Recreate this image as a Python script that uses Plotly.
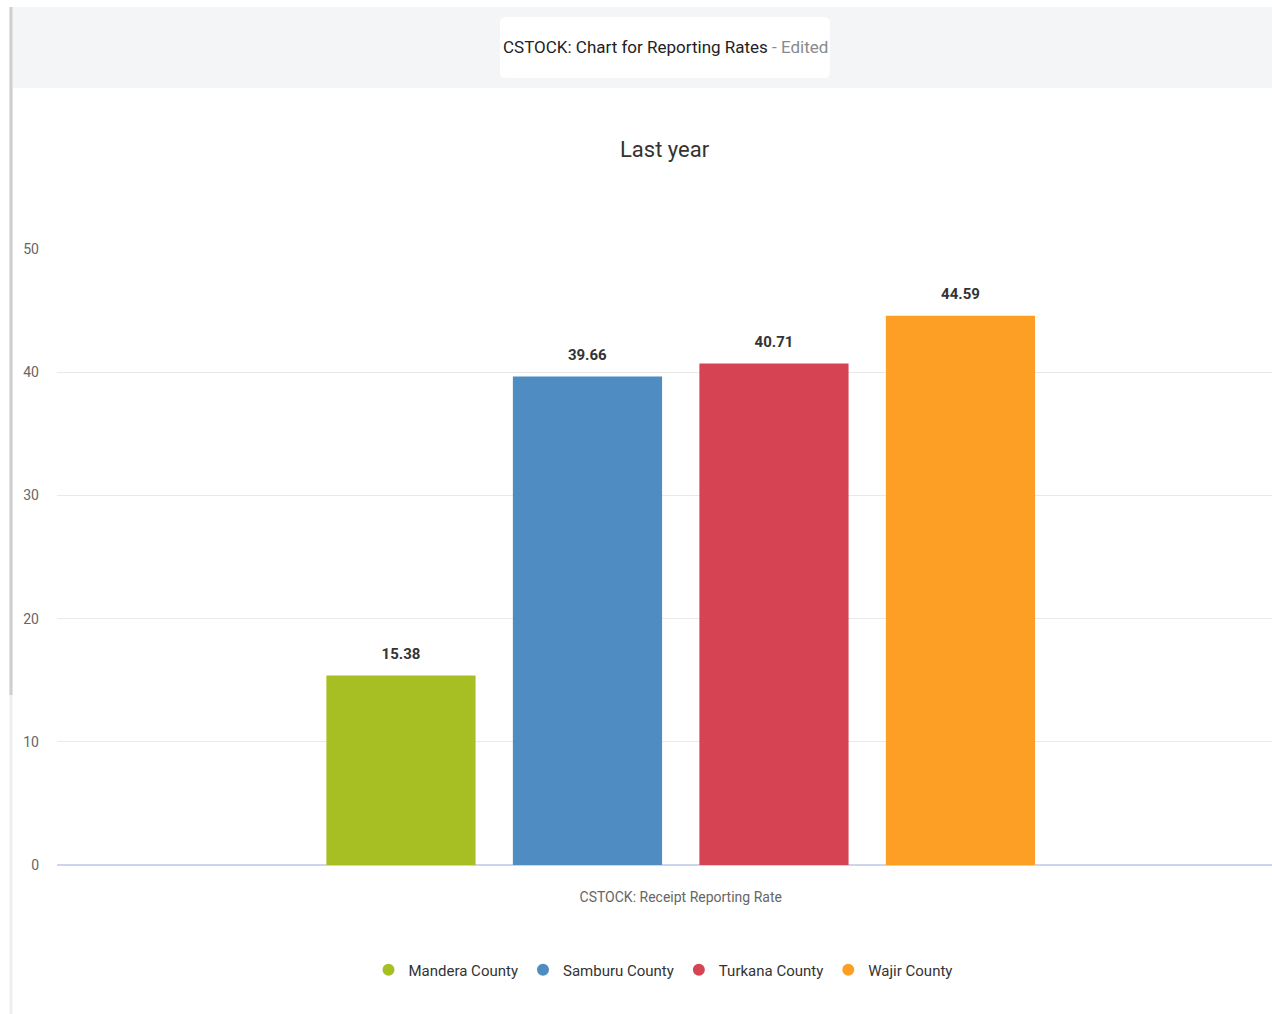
import plotly.graph_objects as go

category = ["CSTOCK: Receipt Reporting Rate"]
counties = ["Mandera County", "Samburu County", "Turkana County", "Wajir County"]
rates = [15.38, 39.66, 40.71, 44.59]
colors = ["#a8bf24", "#4f8cc2", "#d64454", "#fd9f24"]
y_ticks = [0, 10, 20, 30, 40, 50]

W, H = 1272, 1014
L, R, T, B = 57, 0, 249, 149
pw, ph = W - L - R, H - T - B

def px(x):
    return (x - L) / pw

def py(y):
    return (H - B - y) / ph

fig = go.Figure()
for name, val, col in zip(counties, rates, colors):
    fig.add_trace(go.Bar(
        x=category, y=[val], name=name, marker=dict(color=col, line=dict(width=0)),
        texttemplate="<span style='font-size:15px'>%{y:.2f}</span><br> ",
        textposition="outside", cliponaxis=False,
        textfont=dict(family="Roboto", size=9, color="#333333", weight="bold"),
        showlegend=False, hoverinfo="skip"))
for name, col in zip(counties, colors):
    fig.add_trace(go.Scatter(
        x=[None], y=[None], mode="markers", name=name,
        marker=dict(symbol="circle", size=13, color=col), showlegend=True))

box_path = ("M -159,-30.5 L 159,-30.5 Q 165,-30.5 165,-24.5 L 165,24.5 Q 165,30.5 159,30.5 "
            "L -159,30.5 Q -165,30.5 -165,24.5 L -165,-24.5 Q -165,-30.5 -159,-30.5 Z")

shapes = [
    dict(type="rect", xref="paper", yref="paper", x0=px(13), x1=px(W + 5), y0=py(88), y1=py(7),
         fillcolor="#f4f5f7", line=dict(width=0), layer="below"),
    dict(type="path", xref="paper", yref="paper", xsizemode="pixel", ysizemode="pixel",
         xanchor=px(665), yanchor=py(47.5), path=box_path,
         fillcolor="#ffffff", line=dict(width=0), layer="below"),
    dict(type="line", xref="paper", yref="paper", x0=px(11), x1=px(11), y0=py(1014), y1=py(7),
         line=dict(color="#eeeeee", width=3)),
    dict(type="line", xref="paper", yref="paper", x0=px(11), x1=px(11), y0=py(695), y1=py(7),
         line=dict(color="#cfcfcf", width=3)),
]

annotations = [
    dict(xref="paper", yref="paper", x=px(665), y=py(47), xanchor="center", yanchor="middle",
         showarrow=False,
         text="CSTOCK: Chart for Reporting Rates <span style='color:#8a8a8a'>- Edited</span>",
         font=dict(family="Roboto", size=17, color="#222222")),
    dict(xref="paper", yref="paper", x=px(665), y=py(150), xanchor="center", yanchor="middle",
         showarrow=False,
         text="Last year", font=dict(family="Roboto", size=22, color="#333333")),
]

fig.update_layout(
    width=W, height=H, margin=dict(l=L, r=R, t=T, b=B),
    paper_bgcolor="#ffffff", plot_bgcolor="#ffffff",
    font=dict(family="Roboto", color="#666666"),
    barmode="group", bargap=0.402, bargroupgap=0.2,
    showlegend=True,
    legend=dict(orientation="h", x=px(663), xanchor="center", y=py(970), yanchor="middle",
                font=dict(family="Roboto", size=15, color="#333333"),
                itemsizing="constant", itemwidth=30, bgcolor="rgba(0,0,0,0)"),
    shapes=shapes, annotations=annotations,
    xaxis=dict(type="category", range=[-0.5, 0.474], showgrid=False, showline=False,
               zeroline=False, ticks="", ticklabelstandoff=22,
               tickfont=dict(family="Roboto", size=14, color="#666666"), fixedrange=True),
    yaxis=dict(range=[0, 50], tickvals=y_ticks, showgrid=True, gridcolor="#e9e9e9", gridwidth=1,
               zeroline=True, zerolinecolor="#ccd6eb", zerolinewidth=2, showline=False,
               ticks="", ticklabelstandoff=17,
               tickfont=dict(family="Roboto", size=14, color="#666666"), fixedrange=True),
)

fig.write_html("out.html")
